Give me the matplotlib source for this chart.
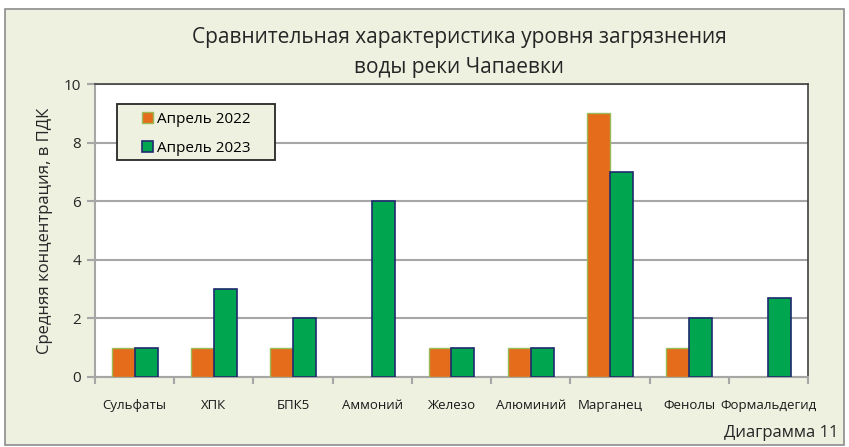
import numpy as np
import matplotlib.pyplot as plt
from matplotlib.patches import Rectangle

plt.rcParams['font.family'] = ['Open Sans', 'DejaVu Sans']

# Data
categories = ['Сульфаты', 'ХПК', 'БПК5', 'Аммоний', 'Железо',
              'Алюминий', 'Марганец', 'Фенолы', 'Формальдегид']
apr_2022 = [1, 1, 1, 0, 1, 1, 9, 1, 0]
apr_2023 = [1, 3, 2, 6, 1, 1, 7, 2, 2.7]
series_names = ['Апрель 2022', 'Апрель 2023']

bg = '#EEF0E0'
orange = '#E46C1A'
green = '#00A550'

fig = plt.figure(figsize=(8.49, 4.47), dpi=100)
fig.patch.set_facecolor('white')
# chart frame
fig.patches.append(Rectangle((5/849, 2/447), 839/849, 436/447, transform=fig.transFigure,
                             facecolor=bg, edgecolor='#8C8C8C', lw=1.2, zorder=-1))

ax = fig.add_axes([95/849, 1-377/447, 713/849, 293/447])
ax.set_facecolor('white')

x = np.arange(len(categories))
w = 0.29
ax.bar(x - w/2, apr_2022, w, color=orange, edgecolor='#9BBB59', lw=1, label=series_names[0], zorder=3)
ax.bar(x + w/2, apr_2023, w, color=green, edgecolor='#1F2A6E', lw=1.2, label=series_names[1], zorder=3)

ax.set_xlim(-0.5, len(categories) - 0.5)
ax.set_ylim(0, 10)
ax.set_yticks([0, 2, 4, 6, 8, 10])
ax.yaxis.grid(True, color='#A6A6A6', lw=1.5, zorder=0)
ax.set_axisbelow(True)

ax.set_xticks(x)
ax.set_xticklabels(categories, fontsize=9.5, color='#1A1A1A', fontweight='medium')
ax.tick_params(axis='x', length=0, pad=16)
ax.set_xticks(np.arange(-0.5, len(categories)), minor=True)
ax.tick_params(axis='x', which='minor', length=5, color='#A6A6A6', width=1.5)
ax.tick_params(axis='y', length=6, color='#A6A6A6', width=1.5, labelsize=11, labelcolor='#262626', pad=4)

for s in ['left', 'bottom']:
    ax.spines[s].set_color('#A6A6A6')
    ax.spines[s].set_linewidth(1.5)
for s in ['top', 'right']:
    ax.spines[s].set_color('#404040')
    ax.spines[s].set_linewidth(1.2)

ax.set_ylabel('Средняя концентрация, в ПДК', fontsize=12, color='#262626', labelpad=8)

# legend box drawn separately (Excel style padding)
ax.add_patch(Rectangle((22/713, 217/293), 158/713, 56/293, transform=ax.transAxes,
                       facecolor=bg, edgecolor='#262626', lw=1.3, zorder=5))
leg = ax.legend(loc='upper left', bbox_to_anchor=(47/713, 265/293), borderaxespad=0,
                fontsize=11, frameon=False, handlelength=0.7, handleheight=0.7,
                handletextpad=0.3, borderpad=0, labelspacing=0.9)
leg.set_zorder(6)

fig.text(459/849, 1-38/447, 'Сравнительная характеристика уровня загрязнения',
         ha='center', va='center', fontsize=15, color='#262626')
fig.text(459/849, 1-67/447, 'воды реки Чапаевки',
         ha='center', va='center', fontsize=15, color='#262626')
fig.text(838/849, 1-433/447, 'Диаграмма 11', ha='right', va='center',
         fontsize=12, color='#262626')

fig.savefig('out.png', dpi=100)
